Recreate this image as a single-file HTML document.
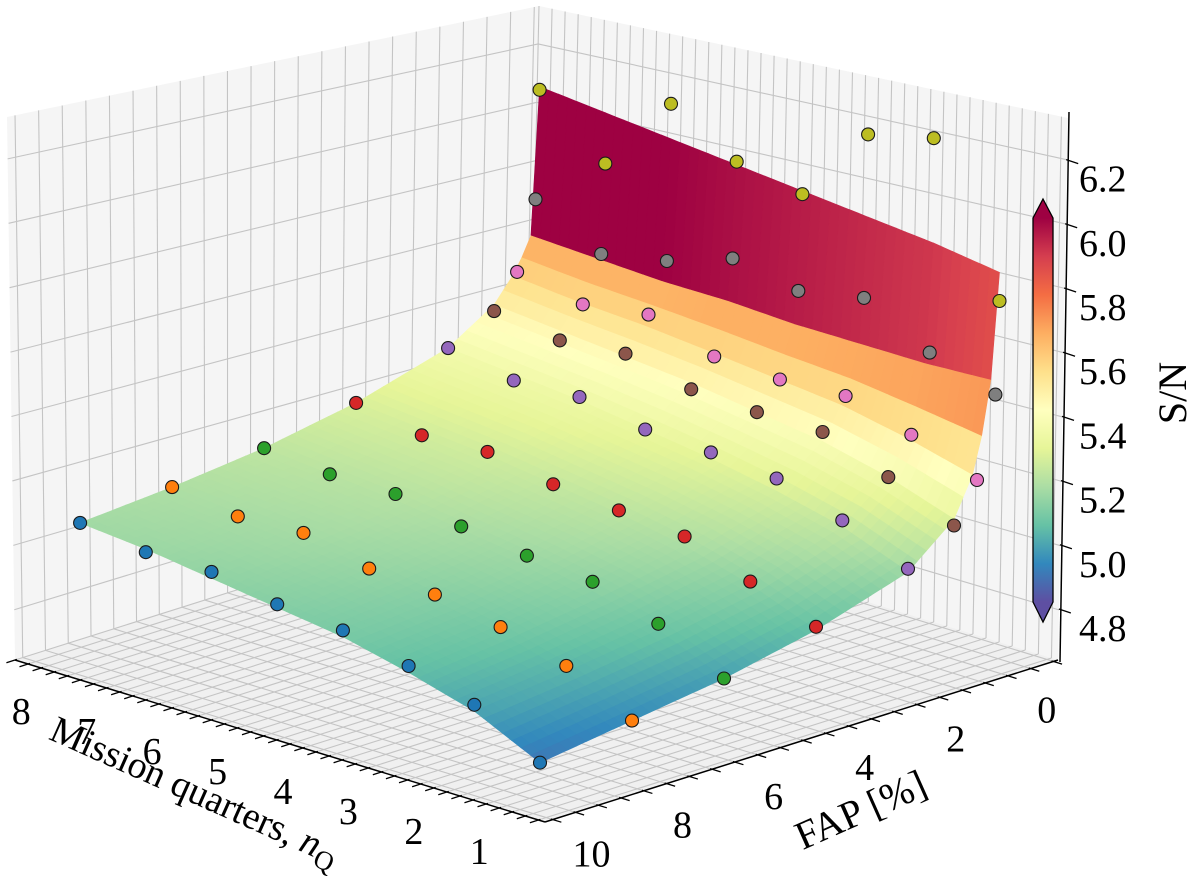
<!DOCTYPE html>
<html><head><meta charset="utf-8"><title>S/N surface</title>
<style>
html,body{margin:0;padding:0;background:#fff;}
svg{display:block;font-family:"Liberation Serif","DejaVu Serif",serif;}
</style></head>
<body>
<svg id="chart" xmlns="http://www.w3.org/2000/svg" width="1200" height="886" viewBox="0 0 1200 886">
  <g id="panes"></g>
  <g id="grid"></g>
  <g id="axes"></g>
  <g id="surface"></g>
  <g id="dots"></g>
  <g id="cbar"></g>
  <text x="0" y="0" font-size="38" text-anchor="middle" transform="translate(190,802) rotate(24)">Mission quarters, <tspan font-style="italic">n</tspan><tspan font-size="27" dy="8">Q</tspan></text>
  <text x="0" y="0" font-size="40" text-anchor="middle" transform="translate(866,822) rotate(-24)">FAP [%]</text>
  <text x="0" y="0" font-size="40" text-anchor="middle" transform="translate(1186,393) rotate(-90)">S/N</text>
</svg>
<script>
// ---- data ----
const nQ = [1, 2, 3, 4, 5, 6, 7, 8];
const fapLevels = [10, 8, 6, 4, 2, 1, 0.5, 0.1, 0.01];
const snFap10  = [4.85, 4.96, 5.01, 5.05, 5.06, 5.09, 5.08, 5.10];
const snFap8   = [4.89, 4.99, 5.04, 5.07, 5.08, 5.12, 5.10, 5.12];
const snFap6   = [4.93, 5.03, 5.09, 5.10, 5.12, 5.15, 5.14, 5.15];
const snFap4   = [5.00, 5.07, 5.14, 5.15, 5.16, 5.19, 5.17, 5.20];
const snFap2   = [5.09, 5.17, 5.23, 5.24, 5.24, 5.27, 5.25, 5.28];
const snFap1   = [5.18, 5.26, 5.33, 5.32, 5.32, 5.36, 5.33, 5.35];
const snFap05  = [5.30, 5.37, 5.42, 5.40, 5.40, 5.46, 5.42, 5.45];
const snFap01  = [5.55, 5.61, 5.71, 5.66, 5.69, 5.61, 5.56, 5.66];
const snFap001 = [5.84, 6.28, 6.22, 5.96, 5.99, 6.10, 5.84, 6.00];
const dotSeries = [snFap10, snFap8, snFap6, snFap4, snFap2, snFap1, snFap05, snFap01, snFap001];
const seriesColors = ['#1f77b4','#ff7f0e','#2ca02c','#d62728','#9467bd','#8c564b','#e377c2','#7f7f7f','#bcbd22'];

const surfFap = [0.01, 0.2, 0.5, 1, 2, 4, 6, 8, 10];
const surfN = [1, 2, 3, 4, 5, 6, 7, 8];
const surfSN = [
  [5.93, 5.60, 5.35, 5.20, 5.08, 4.99, 4.93, 4.89, 4.85],
  [5.95, 5.58, 5.39, 5.26, 5.15, 5.06, 5.01, 4.97, 4.94],
  [5.96, 5.57, 5.42, 5.30, 5.19, 5.11, 5.06, 5.02, 4.99],
  [5.97, 5.56, 5.43, 5.32, 5.22, 5.14, 5.09, 5.05, 5.03],
  [5.98, 5.56, 5.44, 5.34, 5.24, 5.16, 5.11, 5.08, 5.05],
  [5.99, 5.55, 5.45, 5.35, 5.26, 5.18, 5.13, 5.10, 5.07],
  [6.00, 5.55, 5.45, 5.36, 5.27, 5.19, 5.14, 5.11, 5.09],
  [6.01, 5.55, 5.46, 5.37, 5.28, 5.20, 5.15, 5.12, 5.10]
];
const zTicks = [4.8, 5.0, 5.2, 5.4, 5.6, 5.8, 6.0, 6.2];
const zTickLabels = ['4.8','5.0','5.2','5.4','5.6','5.8','6.0','6.2'];
const nTickLabels = [1, 2, 3, 4, 5, 6, 7, 8];
const fapTickLabels = [0, 2, 4, 6, 8, 10];

// ---- helpers ----
const NS = 'http://www.w3.org/2000/svg';
function mk(tag, parent) { const e = document.createElementNS(NS, tag); parent.appendChild(e); return e; }
function proj(n, f, s) {
  return [1065.7 - 65.7 * n - 46 * f, 2180.9 - 22.9 * n + 14.7 * f - 318 * s];
}
const R = [1058, 660], K = [528, 498], F = [545, 822], L = [15, 660];
const Rt = [1068, 118], Kt = [539, 6], Lt = [7, 117];
const nMin = 0.5, nMax = 8.6, fMin = -0.6, fMax = 10.67, zMin = 4.644, zMax = 6.33;
function lerp(a, b, t) { return [a[0] + (b[0] - a[0]) * t, a[1] + (b[1] - a[1]) * t]; }
function floorPt(n, f) {
  const u = (n - nMin) / (nMax - nMin), v = (f - fMin) / (fMax - fMin);
  return lerp(lerp(R, K, u), lerp(F, L, u), v);
}
function wallL(f, z) {
  const v = (f - fMin) / (fMax - fMin), w = (z - zMin) / (zMax - zMin);
  return lerp(lerp(K, L, v), lerp(Kt, Lt, v), w);
}
function wallR(n, z) {
  const u = (n - nMin) / (nMax - nMin), w = (z - zMin) / (zMax - zMin);
  return lerp(lerp(R, K, u), lerp(Rt, Kt, u), w);
}
function pts(a) { return a.map(p => p[0].toFixed(1) + ',' + p[1].toFixed(1)).join(' '); }
function line(parent, a, b, stroke, width) {
  const l = mk('line', parent);
  l.setAttribute('x1', a[0]); l.setAttribute('y1', a[1]);
  l.setAttribute('x2', b[0]); l.setAttribute('y2', b[1]);
  l.setAttribute('stroke', stroke); l.setAttribute('stroke-width', width);
  return l;
}
const cmapStops = ['#5e4fa2','#3288bd','#66c2a5','#abdda4','#e6f598','#ffffbf','#fee08b','#fdae61','#f46d43','#d53e4f','#9e0142'];
function hex(c) { return [parseInt(c.slice(1,3),16), parseInt(c.slice(3,5),16), parseInt(c.slice(5,7),16)]; }
function cmap(t) {
  t = Math.max(0, Math.min(1, t));
  const x = t * 10, i = Math.min(9, Math.floor(x)), fr = x - i;
  const a = hex(cmapStops[i]), b = hex(cmapStops[i + 1]);
  return 'rgb(' + a.map((v, k) => Math.round(v + (b[k] - v) * fr)).join(',') + ')';
}
const vMin = 4.83, vMax = 5.95;
function interp1(xs, ys, x) {
  if (x <= xs[0]) return ys[0];
  for (let i = 1; i < xs.length; i++) if (x <= xs[i]) { const t = (x - xs[i-1]) / (xs[i] - xs[i-1]); return ys[i-1] + (ys[i] - ys[i-1]) * t; }
  return ys[ys.length - 1];
}
function surfVal(n, f) {
  const col = surfSN.map(row => interp1(surfFap, row, f));
  return interp1(surfN, col, n);
}

// ---- panes ----
const gP = document.getElementById('panes');
const paneL = mk('polygon', gP);
paneL.setAttribute('points', pts([K, L, Lt, Kt])); paneL.setAttribute('fill', '#f5f5f5');


const paneR = mk('polygon', gP);
paneR.setAttribute('points', pts([R, K, Kt, Rt])); paneR.setAttribute('fill', '#f5f5f5');


const paneF = mk('polygon', gP);
paneF.setAttribute('points', pts([R, F, L, K])); paneF.setAttribute('fill', '#f0f0f0');



// ---- grid ----
const gG = document.getElementById('grid');
const gc = '#c4c4c4', gw = 1.1;
const nGrid = [], fGrid = [], zGrid = zTicks;
for (let k = 0; k <= 40; k++) { const n = 0.6 + k * 0.2; if (n <= nMax) nGrid.push(n); }
for (let k = -1; k <= 21; k++) { const f = k * 0.5; if (f >= fMin && f <= fMax) fGrid.push(f); }
nGrid.forEach(n => { line(gG, floorPt(n, fMin), floorPt(n, fMax), gc, gw); line(gG, wallR(n, zMin), wallR(n, zMax), gc, gw); });
fGrid.forEach(f => { line(gG, floorPt(nMin, f), floorPt(nMax, f), gc, gw); line(gG, wallL(f, zMin), wallL(f, zMax), gc, gw); });
zGrid.forEach(z => { line(gG, wallL(fMin, z), wallL(fMax, z), gc, gw); line(gG, wallR(nMin, z), wallR(nMax, z), gc, gw); });

// ---- axes ----
const gA = document.getElementById('axes');
const xAxis = line(gA, F, L, '#000', 1.5);


const yAxis = line(gA, F, R, '#000', 1.5);


const dN = [(F[0]-R[0]), (F[1]-R[1])]; const lN = Math.hypot(dN[0], dN[1]); dN[0] /= lN; dN[1] /= lN;
const dF = [(F[0]-L[0]), (F[1]-L[1])]; const lF = Math.hypot(dF[0], dF[1]); dF[0] /= lF; dF[1] /= lF;
nGrid.forEach(n => { const p = floorPt(n, fMax); line(gA, [p[0]-dN[0]*2, p[1]-dN[1]*2], [p[0]+dN[0]*9, p[1]+dN[1]*9], '#000', 1.3); });
fGrid.forEach(f => { const p = floorPt(nMin, f); line(gA, [p[0]-dF[0]*2, p[1]-dF[1]*2], [p[0]+dF[0]*9, p[1]+dF[1]*9], '#000', 1.3); });
nTickLabels.forEach(n => {
  const p = floorPt(n, fMax);
  const t = mk('text', gA);
  t.setAttribute('x', (p[0] - 33).toFixed(1)); t.setAttribute('y', (p[1] + 39 + 13).toFixed(1));
  t.setAttribute('font-size', '38'); t.setAttribute('text-anchor', 'middle');
  t.textContent = n;
  
  
});
fapTickLabels.forEach(f => {
  const p = floorPt(nMin, f);
  const t = mk('text', gA);
  t.setAttribute('x', (p[0] + 16).toFixed(1)); t.setAttribute('y', (p[1] + 41 + 13).toFixed(1));
  t.setAttribute('font-size', '38'); t.setAttribute('text-anchor', 'middle');
  t.textContent = f;
  
  
});
function zy(z) { return 610 - (z - 4.8) / 0.2 * 64.2; }
function zx(y) { return 1060 + (662 - y) * 9 / 550; }
const zAxis = line(gA, [zx(662), 662], [zx(112), 112], '#000', 1.5);


zTicks.forEach((z, i) => {
  const y = zy(z), x = zx(y);
  line(gA, [x - 2, y - 1], [x + 10, y + 3], '#000', 1.3);
  const t = mk('text', gA);
  t.setAttribute('x', 1079); t.setAttribute('y', (y + 31).toFixed(1));
  t.setAttribute('font-size', '38');
  t.textContent = zTickLabels[i];
  
  
});

// ---- surface ----
const gS = document.getElementById('surface');
const fMesh = [0.01]; for (let k = 1; k <= 50; k++) fMesh.push(k * 0.2);
const nMesh = []; for (let k = 0; k <= 49; k++) nMesh.push(1 + k * 7 / 49);
for (let i = 0; i < fMesh.length - 1; i++) {
  for (let j = nMesh.length - 2; j >= 0; j--) {
    const f0 = fMesh[i], f1 = fMesh[i+1], n0 = nMesh[j], n1 = nMesh[j+1];
    const v00 = surfVal(n0, f0), v01 = surfVal(n1, f0), v10 = surfVal(n0, f1), v11 = surfVal(n1, f1);
    const top = (v00 + v01) / 2;
    const cv = i === 0 ? (5.80 + (top - 5.93) / 0.08 * 0.2) : Math.max(v00, v01, v10, v11) + 0.05;
    const c = cmap((cv - vMin) / (vMax - vMin));
    const poly = mk('polygon', gS);
    poly.setAttribute('points', pts([proj(n0, f0, v00), proj(n1, f0, v01), proj(n1, f1, v11), proj(n0, f1, v10)]));
    poly.setAttribute('fill', c); poly.setAttribute('stroke', c); poly.setAttribute('stroke-width', '0.6');
    
    
  }
}

// ---- dots ----
const gD = document.getElementById('dots');
dotSeries.forEach((series, si) => {
  series.forEach((s, j) => {
    const p = proj(nQ[j], fapLevels[si], s);
    const c = mk('circle', gD);
    c.setAttribute('cx', p[0].toFixed(1)); c.setAttribute('cy', p[1].toFixed(1)); c.setAttribute('r', '6.5');
    c.setAttribute('fill', seriesColors[si]); c.setAttribute('stroke', '#1a1a1a'); c.setAttribute('stroke-width', '1.1');
    
    
  });
});

// ---- colorbar ----
const gC = document.getElementById('cbar');
const defs = mk('defs', gC);
const lg = mk('linearGradient', defs);
lg.setAttribute('id', 'cbgrad'); lg.setAttribute('x1', '0'); lg.setAttribute('y1', '1'); lg.setAttribute('x2', '0'); lg.setAttribute('y2', '0');
cmapStops.forEach((c, i) => { const st = mk('stop', lg); st.setAttribute('offset', (i / 10).toFixed(2)); st.setAttribute('stop-color', c); });
const cbRect = mk('rect', gC);
cbRect.setAttribute('x', 1033); cbRect.setAttribute('y', 218); cbRect.setAttribute('width', 20); cbRect.setAttribute('height', 384);
cbRect.setAttribute('fill', 'url(#cbgrad)');


const triT = mk('polygon', gC);
triT.setAttribute('points', '1033,218.5 1053,218.5 1043,199'); triT.setAttribute('fill', '#9e0142');


const triB = mk('polygon', gC);
triB.setAttribute('points', '1033,601.5 1053,601.5 1043,622'); triB.setAttribute('fill', '#5e4fa2');


const outline = mk('polygon', gC);
outline.setAttribute('points', '1043,199 1053,218 1053,602 1043,622 1033,602 1033,218');
outline.setAttribute('fill', 'none'); outline.setAttribute('stroke', '#000'); outline.setAttribute('stroke-width', '1.3');


</script>
</body></html>
